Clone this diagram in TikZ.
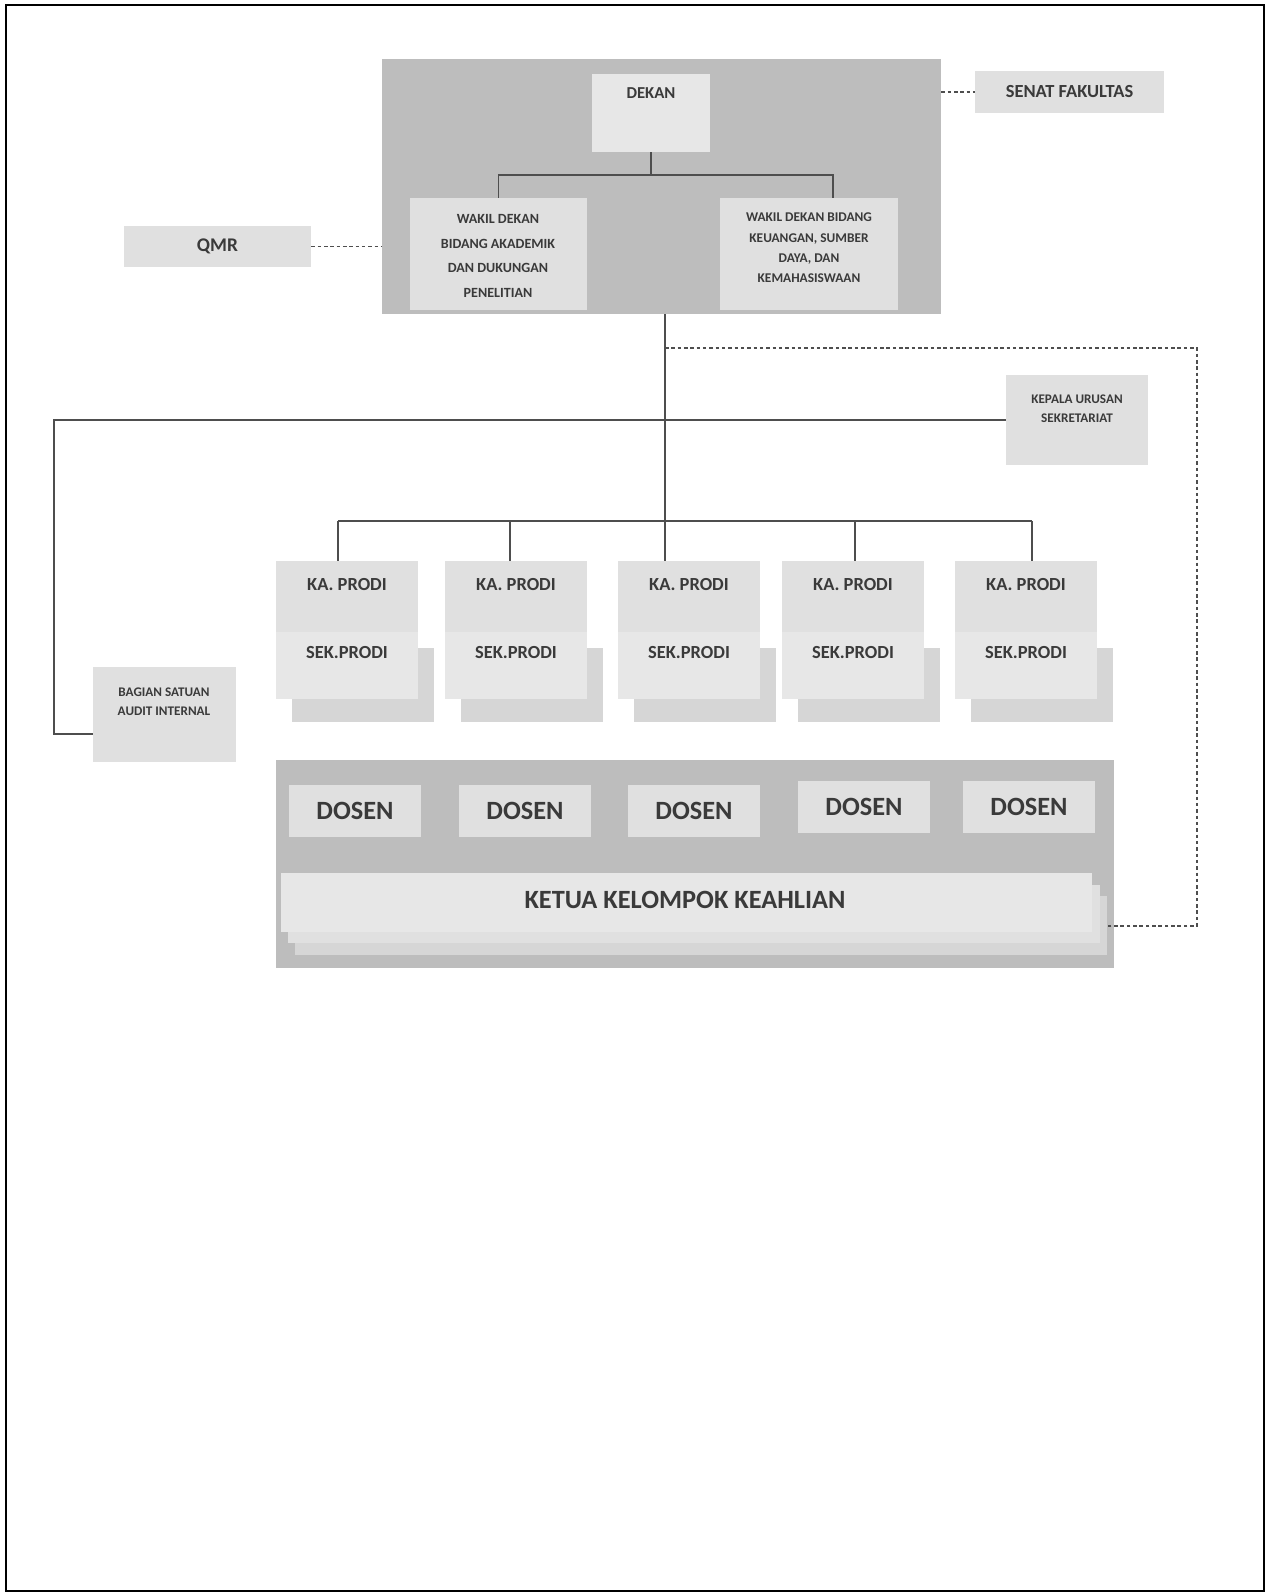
\documentclass[tikz,border=0pt]{standalone}
\usepackage{fontspec}
\setmainfont{Carlito}
\usepackage{tikz}
\usetikzlibrary{fit, calc}
\definecolor{panelgray}{HTML}{BDBDBD}
\definecolor{boxgray}{HTML}{E0E0E0}
\definecolor{paleboxgray}{HTML}{E7E7E7}
\definecolor{backgray}{HTML}{D6D6D6}
\definecolor{inkgray}{HTML}{3A3A3A}
\definecolor{linegray}{HTML}{4E4E4E}
\tikzset{
  panel/.style={fill=panelgray, inner sep=0pt},
  box/.style={fill=boxgray, inner sep=0pt},
  boxtext/.style={text=inkgray, align=center, inner sep=0pt},
  link/.style={draw=linegray, line width=1.1pt},
  dashlink/.style={draw=linegray, line width=0.7pt, dash pattern=on 2pt off 1.6pt},
}

\begin{document}
\begin{tikzpicture}[x=0.2mm, y=-0.2mm]
  \useasboundingbox (0,0) rectangle (1266,1593);
  \draw[black, line width=1.2pt] (6,5) rectangle (1264,1591);

  % Top block - dean and vice deans
  \node[panel, fit={(382,59) (941,314)}] (pimpinan) {};
  \node[box, fill=paleboxgray, fit={(592,74) (710,152)}] (dekan) {};
  \node[boxtext, font=\bfseries\fontsize{9.5}{11}\selectfont] (dekanlbl) at (651,93) {DEKAN};
  \node[box, fit={(410,198) (587,310)}] (wakilA) {};
  \node[boxtext, font=\bfseries\fontsize{8}{13.9}\selectfont] (wakilAlbl) at (498,256)
    {WAKIL DEKAN\\BIDANG AKADEMIK\\DAN DUKUNGAN\\PENELITIAN};
  \node[box, fit={(720,198) (898,310)}] (wakilB) {};
  \node[boxtext, font=\bfseries\fontsize{7.6}{11.6}\selectfont] (wakilBlbl) at (809,248)
    {WAKIL DEKAN BIDANG\\KEUANGAN, SUMBER\\DAYA, DAN\\KEMAHASISWAAN};
  \coordinate (tapB) at (833,198);
  \draw[link] (dekan.south) -- (dekan.south |- 0,175);
  \draw[link] (wakilA.north) -- (wakilA.north |- 0,175) -| (tapB);

  % Side boxes
  \node[box, fit={(975,71) (1164,113)}] (senat) {};
  \node[boxtext, font=\bfseries\fontsize{10.5}{12}\selectfont] (senatlbl) at (senat.center) {SENAT FAKULTAS};
  \node[box, fit={(124,226) (311,267)}] (qmr) {};
  \node[boxtext, font=\bfseries\fontsize{11}{12}\selectfont] (qmrlbl) at (qmr.center) {QMR};
  \draw[dashlink] (pimpinan.east |- senat.west) -- (senat.west);
  \draw[dashlink] (qmr.east) -- (qmr.east -| pimpinan.west);

  \node[box, fit={(1006,375) (1148,465)}] (kepala) {};
  \node[boxtext, font=\bfseries\fontsize{7.5}{11}\selectfont] (kepalalbl) at (1077,409) {KEPALA URUSAN\\SEKRETARIAT};
  \node[box, fit={(93,667) (236,762)}] (bagian) {};
  \node[boxtext, font=\bfseries\fontsize{7.5}{11}\selectfont] (bagianlbl) at (164,702) {BAGIAN SATUAN\\AUDIT INTERNAL};

  % Study programmes
  \foreach \x/\tap [count=\i] in {276/338, 445/510, 618/665, 782/855, 955/1032} {
    \node[box, fill=backgray, fit={(\x+16,648) (\x+158,722)}] (back\i) {};
    \node[box, fit={(\x,561) (\x+142,632)}] (ka\i) {};
    \node[box, fill=paleboxgray, fit={(\x,632) (\x+142,699)}] (sek\i) {};
    \node[boxtext, font=\bfseries\fontsize{10.5}{12}\selectfont] (kalbl\i) at (\x+71,585) {KA. PRODI};
    \node[boxtext, font=\bfseries\fontsize{10.5}{12}\selectfont] (seklbl\i) at (\x+71,653) {SEK.PRODI};
    \coordinate (tap\i) at (\tap,521);
    \draw[link] (tap\i) -- (tap\i |- ka\i.north);
  }
  \draw[link] (tap1) -- (tap5);
  \draw[link] (pimpinan.south -| tap3) -- (tap3);

  % Secretariat and internal audit
  \coordinate (sudut) at (54,734);
  \draw[link] (kepala.west) -| (sudut) -- (sudut -| bagian.west);

  % Lecturers and expertise groups
  \node[panel, fit={(276,760) (1114,968)}] (dosenpanel) {};
  \foreach \x/\y [count=\i] in {289/785, 459/785, 628/785, 798/781, 963/781} {
    \node[box, fit={(\x,\y) (\x+132,\y+52)}] (dosen\i) {};
    \node[boxtext, font=\bfseries\fontsize{15}{16}\selectfont] (dosenlbl\i) at (dosen\i.center) {DOSEN};
  }
  \node[box, fill=backgray, fit={(295,896) (1107,955)}] (kkkC) {};
  \node[box, fit={(288,885) (1100,943)}] (kkkB) {};
  \node[box, fill=paleboxgray, fit={(281,873) (1092,932)}] (kkk) {};
  \node[boxtext, font=\bfseries\fontsize{15}{16}\selectfont] (kkklbl) at (685,900) {KETUA KELOMPOK KEAHLIAN};

  % Dotted coordination line
  \coordinate (dashstart) at (665,348);
  \coordinate (dashcorner) at (1197,926);
  \draw[dashlink] (dashstart) -| (dashcorner) -- (dashcorner -| kkkC.east);
\end{tikzpicture}
\end{document}
